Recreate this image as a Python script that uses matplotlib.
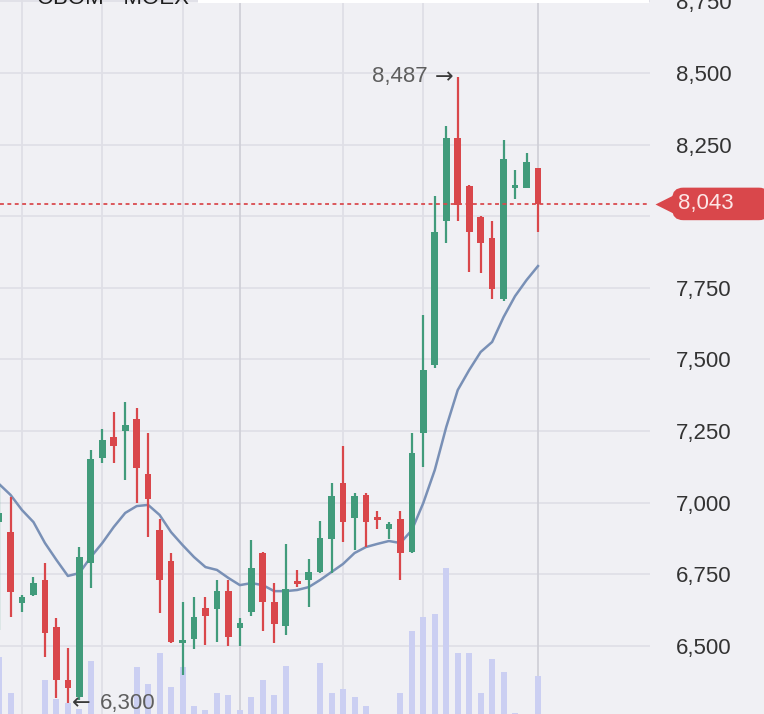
import numpy as np
import matplotlib.pyplot as plt
from matplotlib.transforms import blended_transform_factory
from matplotlib.patches import Rectangle

plt.rcParams['font.family'] = ['Liberation Sans', 'DejaVu Sans']

# daily candles, oldest first
opens = [6932, 6897, 6650, 6677, 6730, 6566, 6381, 6321, 6789, 7156,
         7229, 7250, 7292, 7100, 6904, 6796, 6512, 6524, 6632, 6629,
         6691, 6562, 6618, 6824, 6653, 6569, 6726, 6730, 6758, 6873,
         7069, 6946, 7027, 6950, 6908, 6943, 6828, 7243, 7481, 7983,
         8273, 8106, 7997, 7924, 7711, 8100, 8099, 8168]
highs = [7062, 7020, 6677, 6740, 6789, 6597, 6492, 6845, 7184, 7257,
         7316, 7351, 7330, 7243, 6943, 6824, 6653, 6670, 6670, 6730,
         6730, 6597, 6870, 6826, 6719, 6856, 6765, 6803, 6936, 7069,
         7198, 7034, 7034, 6971, 6932, 6971, 7243, 7655, 8071, 8315,
         8487, 8110, 8000, 7983, 8266, 8161, 8221, 8170]
lows = [6555, 6601, 6618, 6675, 6461, 6318, 6300, 6310, 6702, 7138,
        7138, 7079, 6999, 6880, 6615, 6510, 6398, 6489, 6503, 6513,
        6499, 6499, 6604, 6552, 6510, 6538, 6705, 6636, 6754, 6754,
        6862, 6835, 6845, 6908, 6873, 6730, 6825, 7124, 7470, 7906,
        7983, 7805, 7802, 7711, 7705, 8060, 8097, 7945]
closes = [6964, 6688, 6670, 6719, 6545, 6381, 6353, 6810, 7152, 7219,
          7198, 7271, 7121, 7013, 6730, 6513, 6518, 6601, 6604, 6691,
          6531, 6580, 6772, 6653, 6576, 6698, 6716, 6758, 6876, 7023,
          6932, 7023, 6932, 6939, 6925, 6824, 7173, 7463, 7945, 8273,
          8040, 7945, 7906, 7746, 8200, 8108, 8189, 8043]
# moving average as drawn on the chart
ma_line = [7065, 7027, 6974, 6932, 6859, 6800, 6744, 6754, 6810, 6859,
           6915, 6964, 6988, 6992, 6957, 6897, 6852, 6810, 6775, 6765,
           6737, 6712, 6719, 6712, 6691, 6691, 6695, 6705, 6730, 6758,
           6786, 6824, 6845, 6856, 6866, 6859, 6904, 6999, 7114, 7264,
           7393, 7463, 7526, 7561, 7648, 7721, 7777, 7826]
volumes = [77, 41, 10, 12, 54, 35, 31, 25, 73, 15,
           12, 10, 67, 50, 81, 47, 67, 28, 24, 41,
           39, 24, 37, 54, 39, 68, 15, 12, 71, 41,
           45, 37, 28, 15, 12, 41, 103, 117, 120, 166,
           81, 81, 41, 75, 62, 21, 12, 58]

price_ticks = [6500, 6750, 7000, 7250, 7500, 7750, 8000, 8250, 8500, 8750]
date_grid = [2, 9, 16, 21, 30, 37, 47]
month_grid = [21, 47]
title = 'CBOM · MOEX'

BG = '#f0f0f4'
GREEN = '#419b7b'
RED = '#d9474b'
FS = 16

fig = plt.figure(figsize=(7.64, 7.14), dpi=100)
fig.patch.set_facecolor(BG)
rect = [0, 0, 650 / 764, 1]
ax_bg = fig.add_axes(rect)
axv = fig.add_axes(rect, sharex=ax_bg)
ax = fig.add_axes(rect, sharex=ax_bg, sharey=ax_bg)

idx = np.arange(len(closes))
ax_bg.set_xlim(0.08, 56.77)
ax_bg.set_ylim(6262, 8755)

# background + grid
ax_bg.set_facecolor(BG)
for p in price_ticks:
    ax_bg.axhline(p, color='#dfdfe6', lw=1.2, zorder=0)
for d in date_grid:
    col = '#d0d0d8' if d in month_grid else '#dfdfe6'
    ax_bg.axvline(d, color=col, lw=1.3, zorder=0)
ax_bg.axis('off')

# volume
axv.patch.set_alpha(0)
axv.bar(idx, volumes, width=0.52, color='#cbcff2', linewidth=0)
axv.set_ylim(20, 734)
axv.axis('off')

# candles
ax.patch.set_alpha(0)
o = np.array(opens)
c = np.array(closes)
colors = np.where(c >= o, GREEN, RED)
ax.plot(idx, ma_line, color='#7990b6', lw=1.8, zorder=2)
ax.vlines(idx, lows, highs, colors=colors, lw=1.6, zorder=3)
body_h = np.maximum(np.abs(c - o), 8)
ax.bar(idx, body_h, bottom=(o + c) / 2 - body_h / 2, width=0.58,
       color=colors, linewidth=0, zorder=4)

last = closes[-1]
ax.axhline(last, color=RED, lw=1.4, ls=(0, (2, 1.8)), alpha=0.9, zorder=5)

# high / low markers: number in grey, arrow darker
hi = int(np.argmax(highs))
lo = int(np.argmin(lows))
arrow_kw = dict(textcoords='offset points', va='center', fontsize=FS,
                color='#3a3a3a', family=['DejaVu Sans'], zorder=6)
num_kw = dict(textcoords='offset points', va='center', fontsize=FS,
              color='#5e5e5e', zorder=6)
ax.annotate('\u2192', xy=(hi, highs[hi]), xytext=(-3, 0), ha='right', **arrow_kw)
ax.annotate(f'{highs[hi]:,}', xy=(hi, highs[hi]), xytext=(-22, 0), ha='right', **num_kw)
ax.annotate('\u2190', xy=(lo, lows[lo]), xytext=(3, 0), ha='left', **arrow_kw)
ax.annotate(f'{lows[lo]:,}', xy=(lo, lows[lo]), xytext=(23, 0), ha='left', **num_kw)

# axis labels on the right (8,000 sits under the price badge)
ax.yaxis.tick_right()
ax.set_yticks(price_ticks)
ax.set_yticklabels(['' if p == 8000 else f'{p:,}' for p in price_ticks])
ax.tick_params(axis='y', length=0, pad=18.5, labelsize=FS, labelcolor='#333333')
ax.tick_params(axis='x', bottom=False, labelbottom=False)
for s in ax.spines.values():
    s.set_visible(False)

# last price badge
trans = blended_transform_factory(ax.transAxes, ax.transData)
ax.plot([1.03], [last], marker='<', ms=22, color=RED, mec='none',
        transform=trans, clip_on=False, zorder=7)
ax.text(1.043, last, f'{last:,}     ', transform=trans, ha='left', va='center',
        fontsize=FS, color='#fde6e6', zorder=8, clip_on=False,
        bbox=dict(boxstyle='round,pad=0.26,rounding_size=0.5', fc=RED, ec='none'))

# header strip, mostly cut off
ax.add_patch(Rectangle((198 / 650, 1 - 3 / 714), 451 / 650, 3 / 714,
                       transform=ax.transAxes, fc='white', ec='none',
                       clip_on=False, zorder=6))
ax.text(37 / 650, 1 - 4.5 / 714, title, transform=ax.transAxes,
        va='baseline', ha='left', fontsize=16, color='#1e1e1e', zorder=7)

plt.savefig('out.png', dpi=100, facecolor=BG)
